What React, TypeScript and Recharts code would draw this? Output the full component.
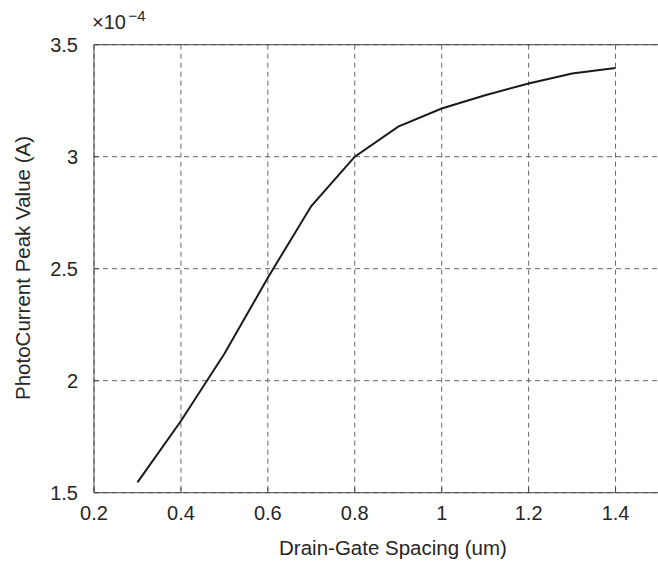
import React from 'react';
import { CartesianGrid, Line, LineChart, ReferenceLine, XAxis, YAxis } from 'recharts';

// Drain-gate spacing (um) vs photocurrent peak (x 1e-4 A)
const spacing = [0.3, 0.4, 0.5, 0.6, 0.7, 0.8, 0.9, 1.0, 1.1, 1.2, 1.3, 1.4];
const peakCurrent = [1.546, 1.82, 2.12, 2.46, 2.78, 3.0, 3.134, 3.215, 3.274, 3.327, 3.371, 3.396];
const xTicks = [0.2, 0.4, 0.6, 0.8, 1, 1.2, 1.4];
const yTicks = [1.5, 2, 2.5, 3, 3.5];

const data = spacing.map((x, i) => ({ x, y: peakCurrent[i] }));

const FONT = 'Liberation Sans, Arial, Helvetica, sans-serif';
const AXIS = '#444';
const TEXT = '#262626';

const BottomTick = (props: any) => {
	const { x, y, payload } = props;
	return (
		<g>
			<line x1={x} y1={y} x2={x} y2={y - 5} stroke={AXIS} strokeWidth={1} />
			<text x={x} y={y + 27.5} textAnchor="middle" fontSize={20} fontFamily={FONT} fill={TEXT}>
				{payload.value}
			</text>
		</g>
	);
};

const TopTick = (props: any) => {
	const { x, y } = props;
	return <line x1={x} y1={y} x2={x} y2={y + 5} stroke={AXIS} strokeWidth={1} />;
};

const LeftTick = (props: any) => {
	const { x, y, payload } = props;
	return (
		<g>
			<line x1={x} y1={y} x2={x + 5} y2={y} stroke={AXIS} strokeWidth={1} />
			<text x={x - 16} y={y + 7} textAnchor="end" fontSize={20} fontFamily={FONT} fill={TEXT}>
				{payload.value}
			</text>
		</g>
	);
};

export default function App() {
	return (
		<div style={{ position: 'fixed', left: 0, top: 0, width: 658, height: 565, overflow: 'hidden', background: '#fff' }}>
			<LineChart width={660} height={565} data={data} margin={{ top: 44.7, right: 1, bottom: 0, left: 0 }}>
				<CartesianGrid
					xAxisId="bottom"
					stroke="#666"
					strokeDasharray="5 4"
					verticalValues={xTicks}
					horizontalValues={yTicks}
				/>
				<XAxis
					xAxisId="bottom"
					type="number"
					dataKey="x"
					domain={[0.2, 1.5]}
					ticks={xTicks}
					height={72.3}
					tickSize={0}
					tickMargin={0}
					tick={BottomTick}
					axisLine={{ stroke: AXIS, strokeWidth: 1 }}
					tickLine={false}
					label={() => (
						<text x={393} y={555} textAnchor="middle" fontSize={20.5} fontFamily={FONT} fill={TEXT}>
							Drain-Gate Spacing (um)
						</text>
					)}
				/>
				<XAxis
					xAxisId="top"
					orientation="top"
					type="number"
					dataKey="x"
					domain={[0.2, 1.5]}
					ticks={xTicks}
					height={0}
					tickSize={0}
					tickMargin={0}
					tick={TopTick}
					axisLine={{ stroke: AXIS, strokeWidth: 1 }}
					tickLine={false}
				/>
				<YAxis
					type="number"
					domain={[1.5, 3.5]}
					ticks={yTicks}
					width={94}
					tickSize={0}
					tickMargin={0}
					tick={LeftTick}
					axisLine={{ stroke: AXIS, strokeWidth: 1 }}
					tickLine={false}
					label={() => (
						<g>
							<text
								x={22}
								y={268}
								transform="rotate(-90 22 268)"
								textAnchor="middle"
								dominantBaseline="central"
								fontSize={20.5}
								fontFamily={FONT}
								fill={TEXT}
							>
								PhotoCurrent Peak Value (A)
							</text>
							<text x={92} y={28.5} fontSize={20} fontFamily={FONT} fill={TEXT}>
								×10
							</text>
							<text x={128.5} y={20.7} fontSize={15} fontFamily={FONT} fill={TEXT}>
								−4
							</text>
						</g>
					)}
				/>
				<ReferenceLine xAxisId="bottom" y={3.5} stroke={AXIS} strokeWidth={1} />
				<Line
					xAxisId="bottom"
					type="linear"
					dataKey="y"
					stroke="#1a1a1a"
					strokeWidth={2}
					dot={false}
					isAnimationActive={false}
				/>
			</LineChart>
		</div>
	);
}
